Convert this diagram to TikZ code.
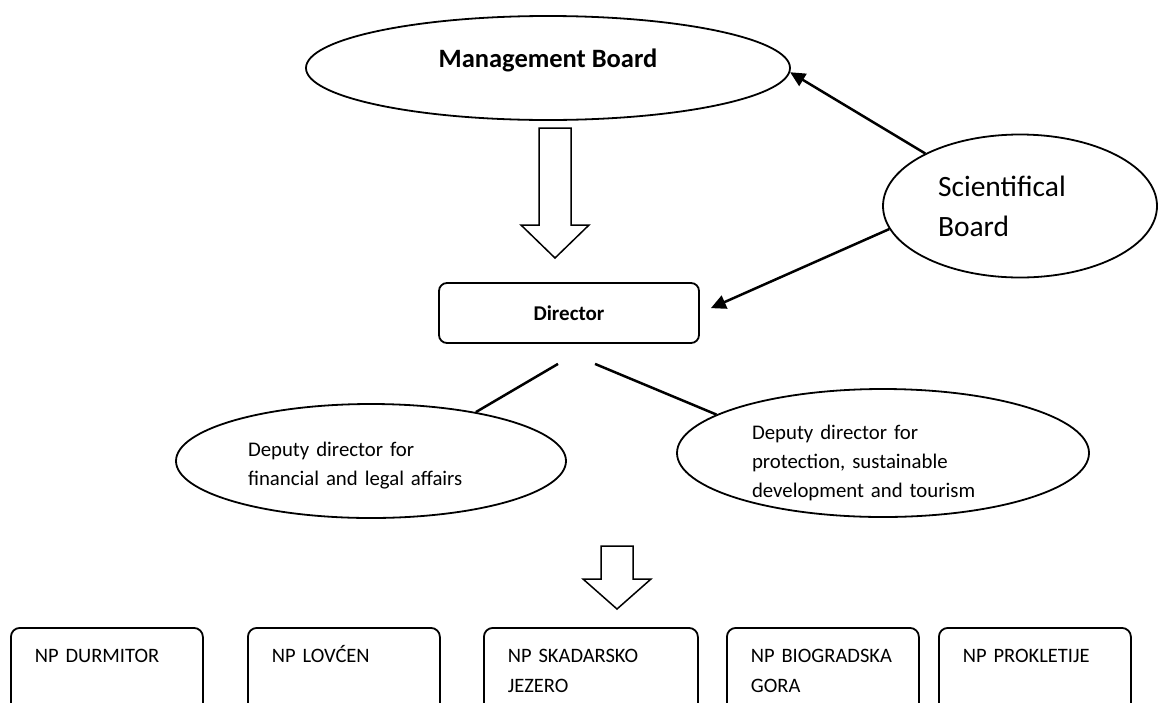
\documentclass[tikz,border=0pt]{standalone}
\usepackage{fontspec}
\setmainfont{Carlito}
\usepackage{tikz}
\usetikzlibrary{arrows.meta,shapes}

\begin{document}
\begin{tikzpicture}[x=1pt,y=-1pt,
        oval/.style={draw, ellipse, line width=1.8pt, inner sep=0pt, align=left},
        park/.style={draw, rounded corners=9pt, line width=1.8pt, anchor=north west,
            align=left, inner xsep=24pt, inner ysep=15pt, text height=20pt, text depth=60pt,
            font=\fontsize{20.5}{30}\selectfont},
        link/.style={line width=2.5pt},
        tip/.style={-{Triangle[length=15pt,width=14pt]}},
        hollow/.style={draw, line width=1.5pt, line join=miter}]
        \useasboundingbox (0,0) rectangle (1158,702);
        % boards
        \node[oval, minimum width=484pt, minimum height=104pt, text depth=20pt,
            font=\fontsize{26.5}{32}\selectfont\bfseries] (mb) at (548,68) {Management Board};
        \node[oval, minimum width=274pt, minimum height=143pt, text width=164pt,
            font=\fontsize{29.5}{40}\selectfont] (sci) at (1020,206) {Scientifical\\Board};
        \node[draw, rounded corners=8pt, line width=1.8pt, minimum width=260pt, minimum height=60pt,
            font=\fontsize{21}{24}\selectfont\bfseries] (dir) at (569,313) {Director};
        \draw[hollow] (539,128) -- (571,128) -- (571,225) -- (589,225) -- (555,258)
            -- (521,225) -- (539,225) -- cycle;
        % deputies
        \node[oval, minimum width=390pt, minimum height=114pt, text width=246pt,
            text height=20pt, text depth=30pt,
            font=\fontsize{20.8}{29}\selectfont] (depfin) at (371,461)
            {Deputy director for\\financial and legal affairs};
        \node[oval, minimum width=412pt, minimum height=128pt, text width=262pt,
            text height=20pt, text depth=48pt,
            font=\fontsize{20.8}{29}\selectfont] (depprot) at (883,453)
            {Deputy director for\\protection, sustainable\\development and tourism};
        \draw[hollow] (601,546) -- (633,546) -- (633,579) -- (651,579) -- (617,609)
            -- (583,579) -- (601,579) -- cycle;
        % national parks
        \node[park, text width=144pt] (durmitor) at (10,627) {NP DURMITOR};
        \node[park, text width=144pt] (lovcen) at (247,627) {NP LOVĆEN};
        \node[park, text width=166pt] (skadar) at (483,627) {NP SKADARSKO\\JEZERO};
        \node[park, text width=144pt] (biograd) at (726,627) {NP BIOGRADSKA\\GORA};
        \node[park, text width=144pt] (prokletije) at (938,627) {NP PROKLETIJE};
        % links
        \draw[link, tip] (sci.151) -- (mb.-1);
        \draw[link, tip, shorten >=12pt] (sci.190) -- (dir.east);
        \draw[link] ([xshift=-11pt,yshift=-20pt]dir.south) -- (depfin.25);
        \draw[link] ([xshift=26pt,yshift=-20pt]dir.south) -- (depprot.167);
\end{tikzpicture}
\end{document}
